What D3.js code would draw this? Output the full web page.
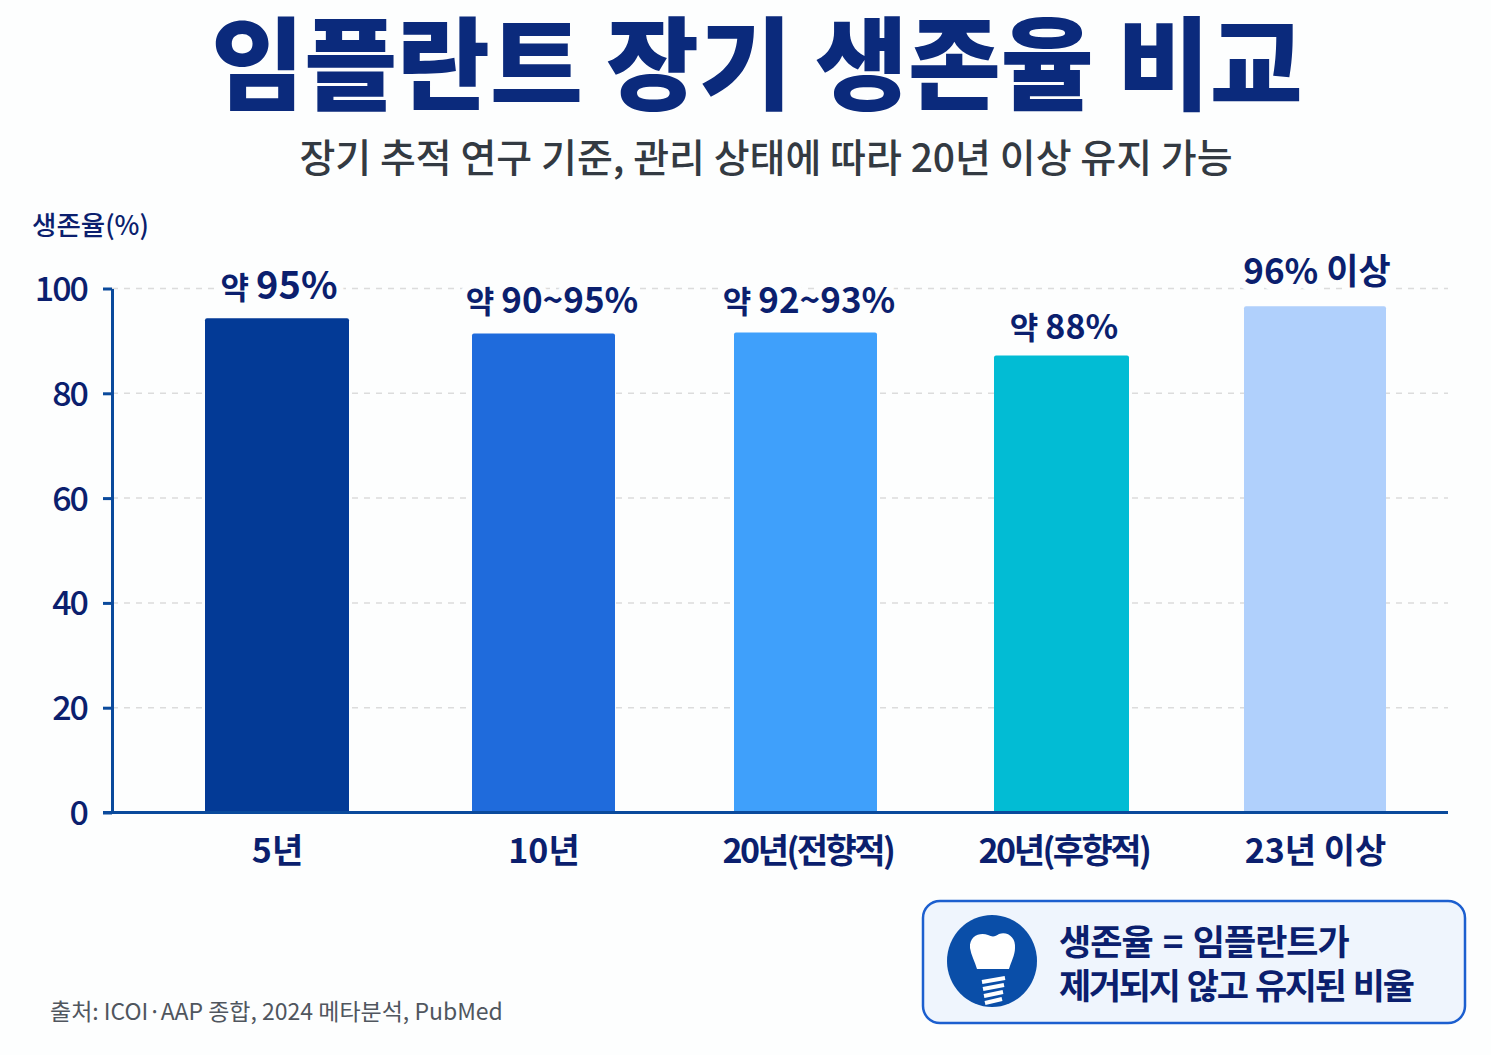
<!DOCTYPE html>
<html>
  <head>
    <meta charset="utf-8" />
    <script src="https://d3js.org/d3.v7.min.js"></script>
    <title>임플란트 장기 생존율 비교</title>
    <style>
      body {
        margin: 0px;
        background: #fdfefe;
      }
      svg {
        display: block;
      }
      text {
        font-family: "Noto Sans CJK KR", sans-serif;
      }
      .domain {
        stroke: #0a4a9c;
        stroke-width: 3px;
      }
      .y-axis .tick line {
        stroke: #0a4a9c;
        stroke-width: 3px;
      }
      .y-axis .tick text {
        fill: #0b1f6e;
        font-size: 34px;
        font-weight: 500;
        letter-spacing: -2px;
      }
      .x-axis .tick text {
        fill: #0b1f6e;
        font-size: 34px;
        font-weight: 700;
      }
      .grid line {
        stroke: #dcdcdc;
        stroke-width: 1.5px;
        stroke-dasharray: 6 6;
      }
      .bar-label {
        fill: #0b1f6e;
        font-weight: 700;
        text-anchor: middle;
        paint-order: stroke;
        stroke: #fdfefe;
        stroke-width: 14px;
        stroke-linejoin: round;
      }
    </style>
  </head>
  <body>
    <svg width="1491" height="1055"></svg>
    <script>
      const categories = ["5년", "10년", "20년(전향적)", "20년(후향적)", "23년 이상"];
      const survival = [94.3, 91.4, 91.6, 87.2, 96.6];
      const valueLabels = ["95%", "90~95%", "92~93%", "88%", "96% 이상"];
      const labelPrefixes = ["약 ", "약 ", "약 ", "약 ", ""];
      const yTicks = [0, 20, 40, 60, 80, 100];
      const barColors = ["#033a96", "#1f6bdc", "#3fa0fb", "#02bcd4", "#b0d0fc"];

      // the bars are not evenly spaced in the picture
      const barCentres = [277, 543.5, 805.5, 1061.5, 1315];
      const barWidths = [144, 143, 143, 135, 142];
      const labelCentres = [279, 552, 809, 1064, 1317];
      const labelBaselines = [299, 313, 313, 339, 284];
      const labelSizes = [38, 35, 35, 34, 35];

      const svg = d3.select("svg");

      const x = d3.scaleOrdinal().domain(categories).range(barCentres);
      const w = d3.scaleOrdinal().domain(categories).range(barWidths);
      const y = d3.scaleLinear().domain([0, 100]).range([812.5, 288.5]);

      svg
        .append("g")
        .attr("class", "grid")
        .selectAll("line")
        .data(yTicks.slice(1))
        .enter()
        .append("line")
        .attr("x1", 112)
        .attr("x2", 1448)
        .attr("y1", (d) => y(d))
        .attr("y2", (d) => y(d));

      // bars
      svg
        .append("g")
        .selectAll("rect")
        .data(categories)
        .enter()
        .append("rect")
        .attr("x", (d) => x(d) - w(d) / 2)
        .attr("y", (d, i) => y(survival[i]))
        .attr("width", (d) => w(d))
        .attr("height", (d, i) => y(0) - y(survival[i]))
        .attr("rx", 2)
        .style("fill", (d, i) => barColors[i]);

      const yAxis = d3
        .axisLeft(y)
        .tickValues(yTicks)
        .tickSize(9)
        .tickSizeOuter(0)
        .tickPadding(16);
      svg
        .append("g")
        .attr("class", "y-axis")
        .attr("transform", "translate(112,0)")
        .call(yAxis)
        .selectAll(".tick text")
        .attr("dy", "0.35em");

      // baseline
      const xAxis = d3.axisBottom(x).tickSize(0).tickPadding(26);
      const xAxisG = svg
        .append("g")
        .attr("class", "x-axis")
        .attr("transform", "translate(0,812.5)")
        .call(xAxis);
      xAxisG.select(".domain").attr("d", "M103,0H1448");
      // labels with brackets are set tighter
      xAxisG
        .selectAll(".tick text")
        .filter((d) => d.includes("("))
        .style("letter-spacing", "-2.5px")
        .attr("dx", 2);

      // value labels, the prefix is a bit smaller than the number
      const labels = svg
        .append("g")
        .selectAll("text")
        .data(categories)
        .enter()
        .append("text")
        .attr("class", "bar-label")
        .attr("x", (d, i) => labelCentres[i])
        .attr("y", (d, i) => labelBaselines[i])
        .style("font-size", (d, i) => labelSizes[i] + "px");
      labels
        .append("tspan")
        .style("font-size", "31px")
        .text((d, i) => labelPrefixes[i]);
      labels.append("tspan").text((d, i) => valueLabels[i]);

      svg
        .append("text")
        .attr("x", 32)
        .attr("y", 235)
        .style("font-size", "26.5px")
        .style("font-weight", "500")
        .style("fill", "#0b1f6e")
        .text("생존율(%)");

      // title block
      svg
        .append("text")
        .attr("x", 757)
        .attr("y", 102)
        .attr("text-anchor", "middle")
        .style("font-size", "101px")
        .style("font-weight", "900")
        .style("fill", "#0b2a7c")
        .text("임플란트 장기 생존율 비교");
      svg
        .append("text")
        .attr("x", 766)
        .attr("y", 172)
        .attr("text-anchor", "middle")
        .style("font-size", "39px")
        .style("font-weight", "500")
        .style("fill", "#333a42")
        .text("장기 추적 연구 기준, 관리 상태에 따라 20년 이상 유지 가능");

      svg
        .append("text")
        .attr("x", 50)
        .attr("y", 1020)
        .style("font-size", "23px")
        .style("fill", "#50565e")
        .text("출처: ICOI·AAP 종합, 2024 메타분석, PubMed");

      // note box
      const note = svg.append("g");
      note
        .append("rect")
        .attr("x", 923)
        .attr("y", 901)
        .attr("width", 542)
        .attr("height", 122)
        .attr("rx", 17)
        .style("fill", "#eff5fd")
        .style("stroke", "#1c5fcf")
        .style("stroke-width", 2.5);
      note
        .append("ellipse")
        .attr("cx", 992)
        .attr("cy", 961)
        .attr("rx", 45)
        .attr("ry", 46)
        .style("fill", "#0a4ea8");
      // tooth crown
      note
        .append("path")
        .attr(
          "d",
          "M970,948 C969,935 981,932 988,935 C992,937 995,937 999,934 C1008,931 1016,938 1015,948 C1015,955 1011,962 1009,969 L977,969 C975,962 971,955 970,948 Z"
        )
        .style("fill", "#ffffff");
      // implant screw
      note
        .append("g")
        .selectAll("path")
        .data([0, 1, 2, 3])
        .enter()
        .append("path")
        .attr("d", (d) => `M${982 + d},${982 + d * 7} L${1005 - d},${978 + d * 7}`)
        .style("stroke", "#ffffff")
        .style("stroke-width", 4);
      note
        .append("text")
        .attr("x", 1059)
        .attr("y", 955)
        .style("font-size", "35px")
        .style("font-weight", "700")
        .style("letter-spacing", "-1px")
        .style("word-spacing", "3.3px")
        .style("fill", "#0b1f6e")
        .text("생존율 = 임플란트가");
      note
        .append("text")
        .attr("x", 1059)
        .attr("y", 999)
        .style("font-size", "35px")
        .style("font-weight", "700")
        .style("letter-spacing", "-2.3px")
        .style("word-spacing", "2.6px")
        .style("fill", "#0b1f6e")
        .text("제거되지 않고 유지된 비율");
    </script>
  </body>
</html>
